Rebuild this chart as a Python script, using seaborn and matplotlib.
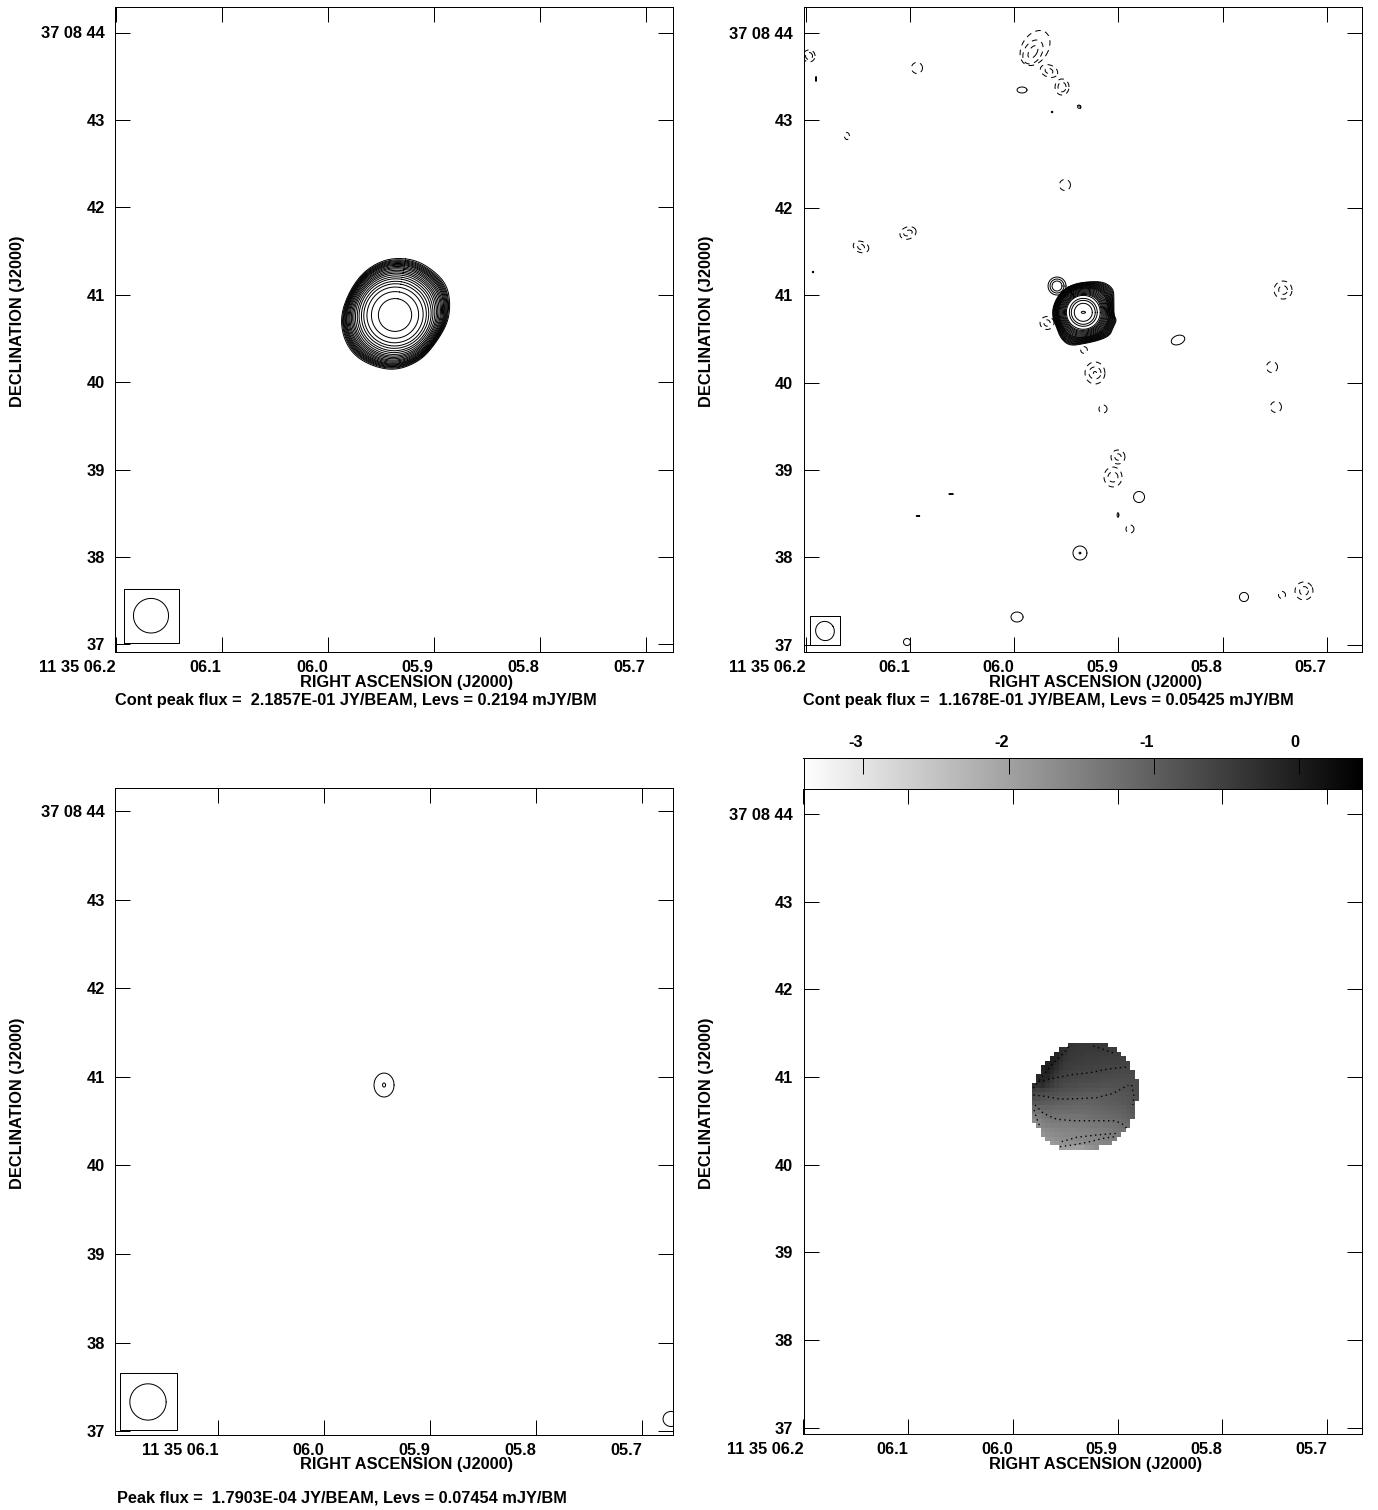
import numpy as np
import pandas as pd
import matplotlib
matplotlib.use("Agg")
import matplotlib.pyplot as plt
import seaborn as sns

# ---- data (RA in seconds past 11 35, Dec in arcsec past 37 08) ----
ra_ticks = [6.2, 6.1, 6.0, 5.9, 5.8, 5.7]
ra_labels = ["11 35 06.2", "06.1", "06.0", "05.9", "05.8", "05.7"]
ra_ticks_p3 = [6.1, 6.0, 5.9, 5.8, 5.7]
ra_labels_p3 = ["11 35 06.1", "06.0", "05.9", "05.8", "05.7"]
dec_ticks = [44, 43, 42, 41, 40, 39, 38, 37]
dec_labels = ["37 08 44", "43", "42", "41", "40", "39", "38", "37"]
cbar_ticks = [-3, -2, -1, 0]
cbar_labels = ["-3", "-2", "-1", "0"]
cbar_range = [-3.41, 0.43]

caption_p1 = "Cont peak flux =  2.1857E-01 JY/BEAM, Levs = 0.2194 mJY/BM"
caption_p2 = "Cont peak flux =  1.1678E-01 JY/BEAM, Levs = 0.05425 mJY/BM"
caption_p3 = "Peak flux =  1.7903E-04 JY/BEAM, Levs = 0.07454 mJY/BM"

# panel 1, outer contour and level scales
p1_outline_ra = [5.9349, 5.9161, 5.8988, 5.8884, 5.8853, 5.8878, 5.8988, 5.9129,
                 5.9349, 5.9554, 5.9742, 5.9846, 5.9868, 5.9790, 5.9664, 5.9507]
p1_outline_dec = [41.4085, 41.3780, 41.2445, 41.0920, 40.8822, 40.6724, 40.4436, 40.2529,
                  40.1461, 40.1843, 40.3101, 40.5199, 40.7678, 41.0347, 41.2445, 41.3666]
p1_center = [5.9365, 40.7678]
p1_levels = [0.31, 0.44, 0.525, 0.585, 0.63, 0.675, 0.71, 0.745, 0.775, 0.80, 0.825,
             0.85, 0.87, 0.89, 0.91, 0.925, 0.94, 0.955, 0.97, 0.985, 1.0, 1.02]
p1_beam_box = [6.1922, 6.1406, 37.018, 37.636]
p1_beam = [6.1667, 37.327, 0.198, 0.198, 0]

# panel 2, central source
p2_outline_ra = [5.9528, 5.9416, 5.9272, 5.9144, 5.9054, 5.9048, 5.9048, 5.9022, 5.9054,
                 5.9086, 5.9192, 5.9336, 5.9464, 5.9544, 5.9585, 5.9633, 5.9608]
p2_outline_dec = [41.0594, 41.1281, 41.1510, 41.1434, 41.0671, 40.9450, 40.7734, 40.7162, 40.6399,
                  40.5446, 40.4874, 40.4492, 40.4302, 40.5064, 40.6209, 40.7734, 40.9259]
p2_center = [5.9336, 40.804]
p2_levels = [0.57, 0.60, 0.63, 0.66, 0.69, 0.72, 0.75, 0.78, 0.80, 0.82, 0.84, 0.86, 0.88,
             0.90, 0.92, 0.94, 0.96, 0.98, 1.0, 1.02]
p2_beam_box = [6.1959, 6.1674, 36.998, 37.333]
p2_beam = [6.1815, 37.158, 0.106, 0.111, 30]

# panel 2, compact contours (ra, dec, semi axes in arcsec, angle)
solid_ra = [5.9588, 5.9588, 5.9588, 5.9336, 5.9336, 5.9336, 5.9336, 5.9336,
            5.9924, 5.9636, 5.9377, 6.1930, 6.1901, 5.8427, 5.8801, 5.9003, 6.0606, 6.0923,
            5.9368, 5.9368, 5.9972, 6.1028, 5.7794]
solid_dec = [41.105, 41.105, 41.105, 40.804, 40.804, 40.804, 40.804, 40.804,
             43.348, 43.096, 43.153, 41.265, 43.474, 40.487, 38.691, 38.485, 38.725, 38.474,
             38.050, 38.050, 37.318, 37.032, 37.547]
solid_w = [0.103, 0.080, 0.057, 0.194, 0.160, 0.137, 0.103, 0.023,
           0.057, 0.008, 0.015, 0.008, 0.004, 0.080, 0.063, 0.010, 0.025, 0.020,
           0.080, 0.010, 0.069, 0.040, 0.052]
solid_h = [0.103, 0.080, 0.057, 0.194, 0.160, 0.137, 0.103, 0.012,
           0.034, 0.008, 0.015, 0.008, 0.029, 0.052, 0.063, 0.026, 0.004, 0.006,
           0.080, 0.010, 0.057, 0.040, 0.052]
solid_angle = [0, 0, 0, 0, 0, 0, 0, 0,
               0, 0, 0, 0, 0, 20, 0, 0, 0, 0,
               0, 0, 0, 0, 0]

dashed_ra = [6.1968, 6.1968, 6.0932, 6.1604, 6.1469, 6.1469, 6.1018, 6.1018, 5.9512, 5.9377,
             5.9540, 5.9540, 5.9665, 5.9665, 5.9799, 5.9819, 5.9819, 5.7419, 5.7419,
             5.9224, 5.9224, 5.9224, 5.9147, 5.7525, 5.7487, 5.9003, 5.9003, 5.9051, 5.9051,
             5.8888, 5.9684, 5.9684, 5.9329, 5.7429, 5.7218, 5.7218]
dashed_dec = [43.737, 43.737, 43.600, 42.821, 41.552, 41.552, 41.712, 41.712, 42.261, 43.153,
              43.382, 43.382, 43.565, 43.565, 43.828, 43.783, 43.783, 41.059, 41.059,
              40.110, 40.110, 40.110, 39.698, 40.178, 39.721, 39.149, 39.149, 38.920, 38.920,
              38.325, 40.682, 40.682, 40.373, 37.570, 37.616, 37.616]
dashed_w = [0.069, 0.040, 0.063, 0.028, 0.092, 0.040, 0.095, 0.050, 0.063, 0.022,
            0.080, 0.046, 0.103, 0.046, 0.150, 0.100, 0.045, 0.103, 0.050,
            0.114, 0.069, 0.017, 0.046, 0.063, 0.063, 0.080, 0.036, 0.103, 0.057,
            0.046, 0.080, 0.036, 0.038, 0.040, 0.103, 0.050]
dashed_h = [0.069, 0.040, 0.063, 0.040, 0.063, 0.030, 0.069, 0.030, 0.063, 0.022,
            0.092, 0.055, 0.069, 0.030, 0.217, 0.149, 0.080, 0.103, 0.050,
            0.126, 0.069, 0.017, 0.046, 0.063, 0.063, 0.080, 0.036, 0.114, 0.057,
            0.046, 0.074, 0.036, 0.038, 0.040, 0.103, 0.050]
dashed_angle = [0, 0, 0, 0, -20, -20, 20, 20, 0, 0,
                0, 0, -20, -20, -32, -32, -32, 0, 0,
                0, 0, 0, 0, 0, 0, 0, 0, 0, 0,
                0, 0, 0, 0, 0, 30, 30]

# panel 3
p3_ra = [5.9435, 5.9435, 5.6725]
p3_dec = [40.907, 40.907, 37.138]
p3_w = [0.113, 0.017, 0.090]
p3_h = [0.135, 0.023, 0.085]
p3_beam_box = [6.1928, 6.139, 37.013, 37.657]
p3_beam = [6.1664, 37.330, 0.205, 0.205, 0]

# panel 4, spectral index map x100, one list per row from the top
grid_first_col = [8, 6, 5, 4, 3, 2, 2, 1, 1, 0, 0, 0, 0, 0, 0, 0, 0, 0, 1, 2, 2, 3, 4, 6]
grid_rows = [
    [-35, -38, -40, -40, -40, -40, -42, -42, -42],
    [-25, -30, -38, -40, -42, -42, -42, -44, -44, -44, -46, -46, -46],
    [-15, -20, -32, -40, -42, -44, -44, -46, -46, -48, -48, -48, -50, -50, -50],
    [-10, -12, -25, -38, -42, -45, -46, -48, -48, -50, -50, -52, -52, -52, -54, -54, -54],
    [-5, 0, -18, -32, -42, -46, -48, -50, -50, -52, -52, -54, -54, -55, -56, -56, -56, -58, -58],
    [-5, 5, -10, -25, -38, -46, -50, -52, -54, -54, -56, -56, -58, -58, -60, -60, -60, -62, -62, -62],
    [-10, -5, -20, -35, -46, -52, -55, -56, -58, -58, -60, -60, -60, -62, -62, -64, -64, -66, -66, -66, -66],
    [-15, -15, -15, -30, -44, -52, -57, -60, -62, -62, -64, -64, -66, -66, -68, -68, -68, -70, -70, -70, -70, -70],
    [-20, -15, -28, -42, -52, -58, -62, -64, -66, -68, -68, -70, -70, -72, -72, -74, -74, -74, -74, -74, -74, -72, -72],
    [-25, -30, -25, -40, -50, -58, -64, -68, -70, -72, -74, -76, -76, -78, -78, -80, -80, -80, -80, -78, -78, -76, -74, -72],
    [-50, -55, -55, -60, -66, -70, -74, -76, -78, -80, -82, -84, -84, -86, -86, -88, -88, -86, -84, -82, -80, -78, -75, -72],
    [-65, -70, -72, -75, -78, -80, -84, -86, -88, -90, -92, -92, -94, -94, -94, -94, -92, -90, -88, -86, -84, -82, -78, -72],
    [-75, -80, -82, -85, -88, -90, -92, -94, -96, -98, -100, -100, -100, -100, -100, -98, -96, -94, -92, -90, -88, -85, -80, -75],
    [-90, -92, -94, -95, -98, -100, -102, -104, -106, -106, -106, -106, -106, -106, -104, -102, -100, -98, -96, -94, -90, -85, -82],
    [-115, -110, -108, -108, -110, -112, -112, -114, -114, -114, -114, -114, -114, -112, -110, -108, -106, -104, -102, -100, -98, -92, -88],
    [-135, -128, -122, -120, -120, -122, -122, -122, -122, -122, -122, -120, -120, -118, -116, -114, -112, -110, -108, -106, -102, -98, -92],
    [-155, -145, -135, -130, -130, -130, -132, -132, -132, -130, -130, -128, -126, -124, -122, -120, -118, -116, -114, -112, -108, -104, -98],
    [-170, -160, -148, -142, -140, -140, -140, -140, -140, -138, -138, -136, -134, -132, -130, -128, -126, -124, -122, -118, -114, -110],
    [-170, -158, -152, -150, -150, -148, -148, -148, -146, -146, -144, -142, -140, -138, -136, -134, -132, -130, -126, -122, -118],
    [-170, -165, -160, -158, -156, -156, -154, -154, -152, -150, -150, -148, -146, -144, -142, -140, -136, -132, -128],
    [-178, -172, -168, -165, -162, -160, -160, -158, -158, -156, -154, -152, -150, -148, -146, -144, -142, -138],
    [-182, -178, -172, -170, -168, -166, -164, -162, -160, -158, -158, -156, -154, -152, -150, -148],
    [-190, -184, -180, -176, -174, -172, -170, -168, -166, -164, -162, -160, -158, -156],
    [-195, -195, -198, -200, -200, -195, -185, -178, -170],
]
grid_ra0 = 5.9818
grid_dec0 = 41.389
grid_dra = 0.00426
grid_ddec = 0.0508

# panel 4, dotted contours on top of the map
dot_ra = [
    [5.9805, 5.9709, 5.9614, 5.9486, 5.9461],
    [5.9232, 5.9120, 5.9015],
    [5.9757, 5.9614, 5.9455, 5.9264, 5.9104, 5.8897],
    [5.9805, 5.9678, 5.9550, 5.9391, 5.9200, 5.9041, 5.8897],
    [5.8865, 5.8843, 5.8856],
    [5.9789, 5.9709, 5.9582, 5.9423, 5.9232, 5.9041, 5.8961, 5.8913],
    [5.9798, 5.9773, 5.9741],
    [5.9534, 5.9391, 5.9200, 5.9009],
    [5.9550, 5.9423, 5.9264, 5.9136, 5.9025],
]
dot_dec = [
    [40.872, 41.024, 41.157, 41.309, 41.366],
    [41.355, 41.309, 41.263],
    [40.948, 40.986, 41.024, 41.051, 41.089, 41.119],
    [40.796, 40.777, 40.750, 40.754, 40.765, 40.815, 40.910],
    [40.910, 40.777, 40.682],
    [40.682, 40.587, 40.519, 40.503, 40.503, 40.503, 40.473, 40.416],
    [40.625, 40.530, 40.435],
    [40.264, 40.313, 40.340, 40.359],
    [40.207, 40.226, 40.264, 40.302, 40.321],
]

# ---- layout ----
W, H = 1378, 1510
LW = 0.72
FS = 11.75
ARCSEC_PER_SEC = 11.95
DASH = (0, (5.5, 4.5))

sns.set_theme(style="ticks")
plt.rcParams["font.family"] = ["Liberation Sans", "DejaVu Sans"]
plt.rcParams["font.weight"] = "bold"
plt.rcParams["axes.labelweight"] = "bold"
plt.rcParams["axes.linewidth"] = LW
plt.rcParams["axes.edgecolor"] = "black"
plt.rcParams["axes.labelcolor"] = "black"
plt.rcParams["text.color"] = "black"
plt.rcParams["xtick.color"] = "black"
plt.rcParams["ytick.color"] = "black"

fig = plt.figure(figsize=(W / 100, H / 100), dpi=100, facecolor="white")


def make_axes(left, right, top, bottom):
    return fig.add_axes([left / W, 1 - bottom / H, (right - left) / W, (bottom - top) / H])


def finish_axes(ax, box, tick_ra, tick_px, ra_scale, dec_px, dec_scale, xticks, xlabels, xlabel_xy, ylabel_xy):
    left, right, top, bottom = box
    ax.set_xticks(xticks)
    ax.set_xticklabels(xlabels, ha="right")
    ax.set_yticks(dec_ticks)
    ax.set_yticklabels(dec_labels)
    ax.tick_params(axis="both", direction="in", length=10.8, width=LW, top=True, right=True, labelsize=FS)
    ax.tick_params(axis="x", pad=5.5)
    ax.tick_params(axis="y", pad=7.5)
    ax.set_xlabel("RIGHT ASCENSION (J2000)", fontsize=FS, va="center")
    ax.set_ylabel("DECLINATION (J2000)", fontsize=FS, va="center")
    ax.grid(False)
    # limits last, seaborn and the tick setters may have moved them
    ax.set_xlim(tick_ra + (tick_px - left) / ra_scale, tick_ra - (right - tick_px) / ra_scale)
    ax.set_ylim(44 - (bottom - dec_px) / dec_scale, 44 + (dec_px - top) / dec_scale)
    ax.xaxis.set_label_coords(xlabel_xy[0] / W, 1 - xlabel_xy[1] / H, transform=fig.transFigure)
    ax.yaxis.set_label_coords(ylabel_xy[0] / W, 1 - ylabel_xy[1] / H, transform=fig.transFigure)


def ellipse_frame(ra, dec, w, h, angle):
    t = np.linspace(0, 2 * np.pi, 49)
    frames = []
    for i in range(len(ra)):
        a = np.deg2rad(angle[i])
        ex = w[i] * np.cos(t) * np.cos(a) - h[i] * np.sin(t) * np.sin(a)
        ey = w[i] * np.cos(t) * np.sin(a) + h[i] * np.sin(t) * np.cos(a)
        frames.append(pd.DataFrame({"ra": ra[i] - ex / ARCSEC_PER_SEC, "dec": dec[i] + ey, "id": i}))
    return pd.concat(frames)


def smooth_closed(x, y, rounds=3):
    # corner cutting so a contour read at a few vertices stays round
    for _ in range(rounds):
        x2, y2 = np.roll(x, -1), np.roll(y, -1)
        x = np.column_stack([0.75 * x + 0.25 * x2, 0.25 * x + 0.75 * x2]).ravel()
        y = np.column_stack([0.75 * y + 0.25 * y2, 0.25 * y + 0.75 * y2]).ravel()
    return x, y


def level_frame(out_ra, out_dec, center, levels):
    x, y = smooth_closed((np.array(out_ra) - center[0]) * ARCSEC_PER_SEC, np.array(out_dec) - center[1])
    x, y = np.append(x, x[0]), np.append(y, y[0])
    r = np.hypot(x, y)
    mean_r = r.mean()
    frames = []
    for i, lev in enumerate(levels):
        blend = lev ** 3
        px = lev * (blend * x + (1 - blend) * x / r * mean_r)
        py = lev * (blend * y + (1 - blend) * y / r * mean_r)
        frames.append(pd.DataFrame({"ra": center[0] + px / ARCSEC_PER_SEC, "dec": center[1] + py, "id": i}))
    return pd.concat(frames)


def draw_lines(ax, df, linestyle="-", lw=LW):
    sns.lineplot(data=df, x="ra", y="dec", units="id", estimator=None, sort=False, color="black",
                 linewidth=lw, linestyle=linestyle, legend=False, ax=ax)


def draw_beam(ax, box, beam):
    x0, x1, y0, y1 = box
    box_df = pd.DataFrame({"ra": [x0, x1, x1, x0, x0], "dec": [y0, y0, y1, y1, y0], "id": 0})
    draw_lines(ax, box_df)
    draw_lines(ax, ellipse_frame([beam[0]], [beam[1]], [beam[2]], [beam[3]], [beam[4]]))


# panel 1
box1 = (115.5, 673, 7, 652.3)
ax1 = make_axes(*box1)
draw_lines(ax1, level_frame(p1_outline_ra, p1_outline_dec, p1_center, p1_levels))
draw_beam(ax1, p1_beam_box, p1_beam)
finish_axes(ax1, box1, 6.2, 115.7, 1060, 32.5, 87.4, ra_ticks, ra_labels, (406.5, 682), (18, 321))

# panel 2
box2 = (803.5, 1362, 7, 652.3)
ax2 = make_axes(*box2)
draw_lines(ax2, level_frame(p2_outline_ra, p2_outline_dec, p2_center, p2_levels))
draw_lines(ax2, ellipse_frame(solid_ra, solid_dec, solid_w, solid_h, solid_angle))
draw_lines(ax2, ellipse_frame(dashed_ra, dashed_dec, dashed_w, dashed_h, dashed_angle), linestyle=DASH)
draw_beam(ax2, p2_beam_box, p2_beam)
finish_axes(ax2, box2, 6.2, 805.7, 1042, 33, 87.4, ra_ticks, ra_labels, (1095.5, 682), (706, 321))

# panel 3
box3 = (115.5, 673, 788, 1435)
ax3 = make_axes(*box3)
draw_lines(ax3, ellipse_frame(p3_ra, p3_dec, p3_w, p3_h, [0, 0, 0]))
draw_beam(ax3, p3_beam_box, p3_beam)
finish_axes(ax3, box3, 6.1, 218.3, 1059, 811, 88.6, ra_ticks_p3, ra_labels_p3, (406.5, 1465), (18, 1103))

# panel 4
box4 = (803.5, 1362, 789, 1434)
ax4 = make_axes(*box4)
n_cols = max(f + len(r) for f, r in zip(grid_first_col, grid_rows))
grid = np.full((len(grid_rows), n_cols), np.nan)
for row, (first, vals) in enumerate(zip(grid_first_col, grid_rows)):
    grid[row, first:first + len(vals)] = np.array(vals) / 100
ra_edges = grid_ra0 - grid_dra * np.arange(n_cols + 1)
dec_edges = grid_dec0 - grid_ddec * np.arange(len(grid_rows) + 1)
ax4.pcolormesh(ra_edges, dec_edges, np.ma.masked_invalid(grid), cmap="gray_r",
               vmin=cbar_range[0], vmax=cbar_range[1], shading="flat")
dots = pd.concat([pd.DataFrame({"ra": r, "dec": d, "id": i}) for i, (r, d) in enumerate(zip(dot_ra, dot_dec))])
draw_lines(ax4, dots, linestyle=(0, (1, 2.5)), lw=1.0)
finish_axes(ax4, box4, 6.2, 803.5, 1047, 814, 87.7, ra_ticks, ra_labels, (1095.5, 1465), (706, 1103))

# colour bar
cax = fig.add_axes([803.5 / W, 1 - 789 / H, (1362 - 803.5) / W, 31 / H])
cax.imshow(np.linspace(cbar_range[0], cbar_range[1], 256)[None, :], cmap="gray_r", aspect="auto",
           extent=[cbar_range[0], cbar_range[1], 0, 1], vmin=cbar_range[0], vmax=cbar_range[1])
cax.set_xticks(cbar_ticks)
cax.set_xticklabels(cbar_labels, ha="right")
cax.set_yticks([])
cax.tick_params(axis="x", direction="in", length=11.5, width=LW, bottom=False, top=True,
                labelbottom=False, labeltop=True, labelsize=FS, pad=6)

# captions
fig.text(115 / W, 1 - 700.5 / H, caption_p1, fontsize=FS, fontweight="bold", va="center")
fig.text(803 / W, 1 - 700.5 / H, caption_p2, fontsize=FS, fontweight="bold", va="center")
fig.text(117 / W, 1 - 1498 / H, caption_p3, fontsize=FS, fontweight="bold", va="center")

fig.savefig("out.png", dpi=100, facecolor="white")
